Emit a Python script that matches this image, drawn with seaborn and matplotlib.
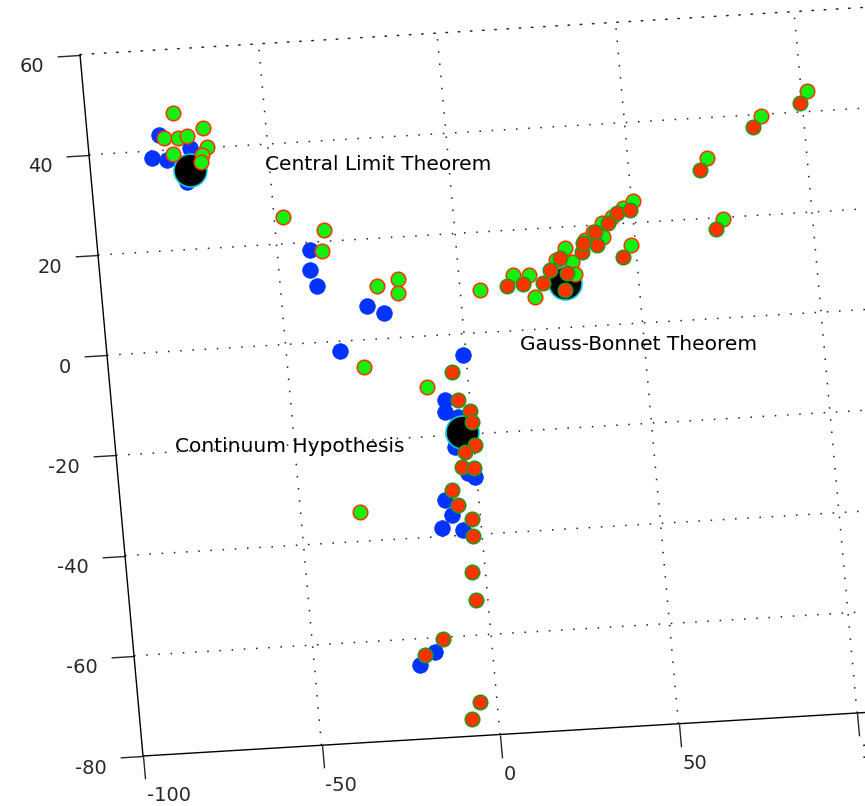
import numpy as np
import pandas as pd
import matplotlib
matplotlib.use("Agg")
import matplotlib.pyplot as plt
import seaborn as sns
from matplotlib.transforms import Affine2D
import mpl_toolkits.axisartist.floating_axes as floating_axes
from mpl_toolkits.axisartist.grid_finder import FixedLocator, DictFormatter

sns.set_style("white")
plt.rcParams['font.family'] = ['DejaVu Sans']
plt.rcParams['axes.unicode_minus'] = False

# ---------------- data ----------------
x_ticks = [-100, -50, 0, 50, 100]
y_ticks = [-80, -60, -40, -20, 0, 20, 40, 60]

blue_x = [-80.0, -82.5, -78.4, -71.7, -73.4, -40.8, -41.3, -39.8, -26.3, -21.8, -35.0,
          -0.8, -7.0, -7.2, -3.8, -5.3, -2.4, -0.5, -9.4, -7.9, -11.0, -5.2, -16.0, -20.5]
blue_y = [43.1, 38.6, 38.0, 40.1, 33.4, 18.5, 14.5, 11.2, 6.7, 5.1, -2.0,
          -4.2, -12.9, -15.3, -16.5, -22.4, -27.7, -28.6, -32.8, -35.8, -38.3, -39.0, -62.8, -65.2]

green_x = [-75.5, -67.6, -78.7, -74.8, -72.2, -76.6, -66.9, -68.5, -69.0, -47.5, -36.4,
           -37.5, -23.0, -17.0, -17.4, -28.7, -11.6, -33.4, 5.5, 15.1, 19.6, 20.7, 27.5,
           30.3, 31.9, 32.4, 41.2, 41.1, 47.4, 50.4, 48.7, 72.1, 75.0, 88.2, 101.6, 36.0,
           38.5, 44.1]
green_y = [47.3, 44.0, 42.4, 42.3, 42.6, 39.2, 40.1, 38.6, 37.2, 25.3, 22.3,
           18.1, 10.5, 11.6, 8.9, -5.4, -10.1, -34.1, 8.5, 11.1, 10.9, 6.4, 13.5,
           15.8, 12.9, 10.5, 20.3, 17.5, 23.0, 24.3, 15.6, 32.0, 19.7, 39.7, 44.1, 17.2,
           18.6, 21.4]

red_x = [-4.3, -3.3, -0.3, 0.0, 0.3, -2.7, -3.9, -0.6, -7.2, -6.0, -2.4, -2.5, -3.7,
         -3.3, -13.5, -18.9, -4.7, -7.4, 13.2, 17.7, 25.5, 30.2, 29.2, 34.9, 35.4, 39.0,
         39.3, 42.9, 45.6, 49.3, 46.2, 69.8, 72.8, 85.7, 99.4, 28.6, 23.3]
red_y = [-7.4, -13.1, -15.4, -17.6, -22.2, -23.5, -26.4, -26.8, -30.9, -33.9, -36.9,
         -40.3, -47.4, -53.0, -60.4, -63.3, -73.3, -76.6, 9.0, 9.2, 11.6, 10.8, 7.5, 14.8,
         16.6, 18.6, 16.0, 20.3, 22.1, 22.6, 13.3, 29.7, 17.8, 37.6, 41.8, 13.9, 9.1]

center_x = [-72.2, -3.0, 29.4]
center_y = [35.8, -19.5, 8.9]

label_text = ["Central Limit Theorem", "Gauss-Bonnet Theorem", "Continuum Hypothesis"]
label_x = [-51.3, 15.2, -83.5]
label_y = [34.9, -3.9, -20.0]

# ---------------- figure ----------------
W, H = 865, 806
fig = plt.figure(figsize=(W / 100, H / 100), dpi=100)

# oblique (3-D like) view of the x-y plane: data -> figure pixels
view = Affine2D(np.array([[3.57, -0.45, 464.0],
                          [0.215, 5.01, 472.3],
                          [0.0, 0.0, 1.0]]))

gh = floating_axes.GridHelperCurveLinear(
    view, extremes=(-100, 135, -80, 60),
    grid_locator1=FixedLocator(x_ticks),
    grid_locator2=FixedLocator(y_ticks),
    tick_formatter1=DictFormatter({v: str(v) for v in x_ticks}),
    tick_formatter2=DictFormatter({v: str(v) for v in y_ticks}))

ax = fig.add_axes([0, 0, 1, 1], axes_class=floating_axes.FloatingAxes, grid_helper=gh)
ax.set_xlim(0, W)
ax.set_ylim(0, H)
ax.axis["right"].set_visible(False)

# the far (top) edge is only a dotted grid line
top = ax.axis["top"]
top.major_ticks.set_visible(False)
top.major_ticklabels.set_visible(False)
top.line.set_linestyle((0, (1, 7)))
top.line.set_linewidth(1.1)
top.line.set_color("#222222")

for side in ("left", "bottom"):
    a = ax.axis[side]
    a.line.set_linewidth(1.0)
    a.line.set_color("black")
    a.major_ticks.set_tick_out(True)
    a.major_ticks.set_ticksize(16.5)
    a.major_ticks.set_markeredgewidth(1.0)
    a.major_ticklabels.set_fontsize(14)
ax.axis["left"].major_ticklabels.set_pad(8)
ax.axis["bottom"].major_ticklabels.set_pad(4)
lt = ax.axis["left"].major_ticklabels
lt.set_rotation(84.87)
lt.set_transform(lt.get_transform() + Affine2D().translate(-2, -9))
bt = ax.axis["bottom"].major_ticklabels
bt.set_rotation(-3.45)
bt.set_ha("left")
bt.set_transform(bt.get_transform() + Affine2D().translate(1, -3))

ax.grid(True, color="#222222", linestyle=(0, (1, 7)), linewidth=1.1)

aux = ax.get_aux_axes(view)

sns.scatterplot(x=blue_x, y=blue_y, ax=aux, s=125, color="#0033ff",
                edgecolor="#0033ff", linewidth=0.6, zorder=3, legend=False)
sns.scatterplot(x=center_x, y=center_y, ax=aux, s=560, color="black",
                edgecolor="#00c8d8", linewidth=1.2, zorder=3, legend=False)
sns.scatterplot(x=green_x, y=green_y, ax=aux, s=110, color="#14f014",
                edgecolor="#ff3300", linewidth=1.1, zorder=3, legend=False)
sns.scatterplot(x=red_x, y=red_y, ax=aux, s=110, color="#ff3300",
                edgecolor="#1f9a1f", linewidth=1.1, zorder=3, legend=False)

for t, tx, ty in zip(label_text, label_x, label_y):
    aux.text(tx, ty, t, fontsize=14.5, ha="left", va="baseline", color="black", zorder=5)

fig.savefig("out.png", dpi=100, facecolor="white")
